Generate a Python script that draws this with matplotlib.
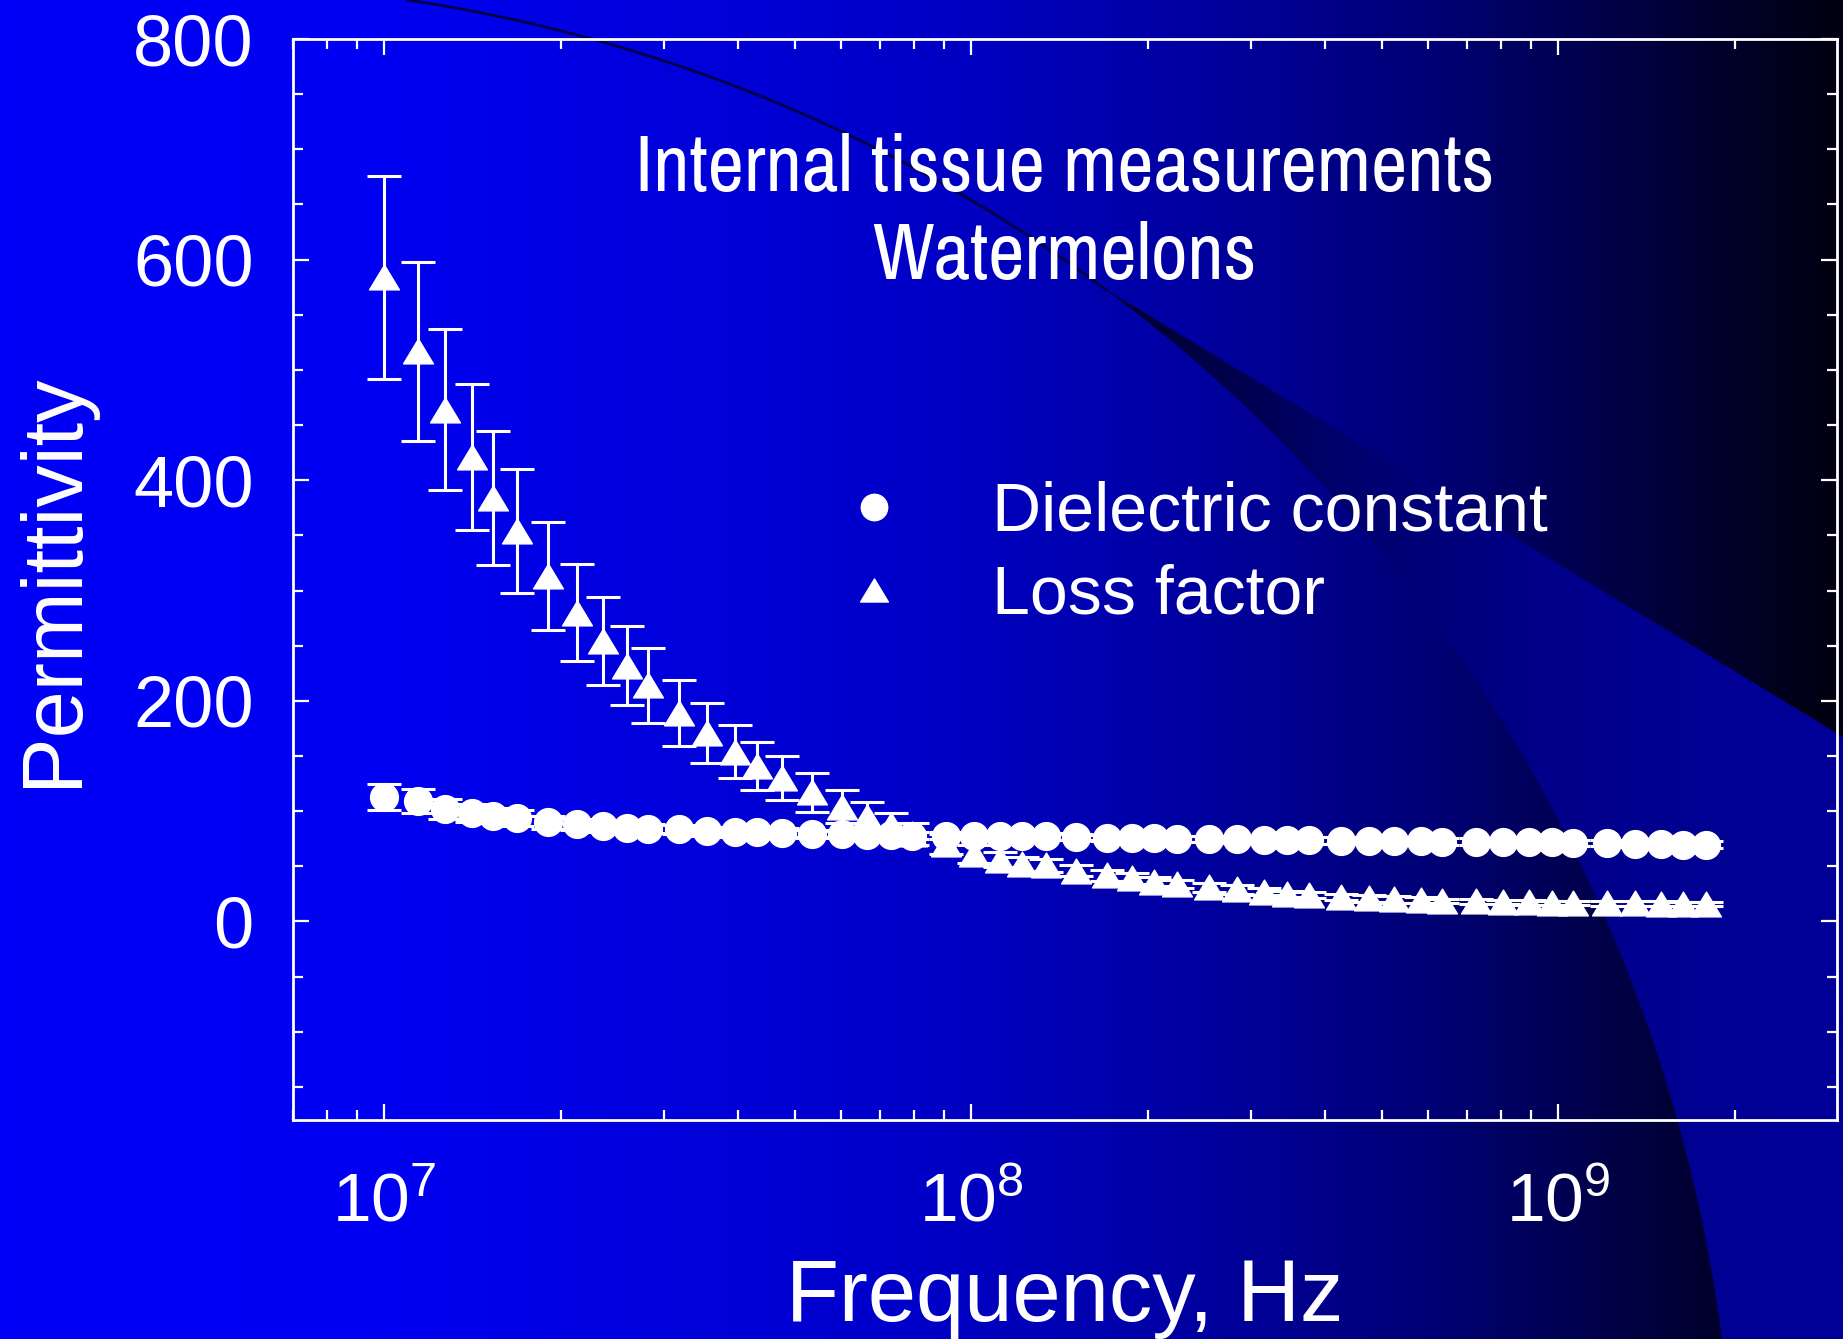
import numpy as np
import matplotlib
matplotlib.use('Agg')
import matplotlib.pyplot as plt
from matplotlib.colors import LinearSegmentedColormap
from matplotlib.patches import Polygon
from matplotlib.path import Path
from matplotlib.lines import Line2D
from matplotlib.ticker import MultipleLocator
from matplotlib.font_manager import FontProperties
from matplotlib import font_manager

# --- data (frequency in MHz) ---
freq_mhz = [10.0, 11.4, 12.7, 14.1, 15.3, 16.8, 19.0, 21.3, 23.6, 25.9,
            28.1, 31.8, 35.5, 39.5, 43.2, 47.5, 53.6, 60.1, 66.5, 73.1,
            79.3, 90.6, 101, 112, 122, 134, 151, 170, 188, 205,
            224, 254, 284, 315, 345, 376, 426, 475, 524, 583,
            633, 723, 804, 890, 974, 1061, 1208, 1353, 1493, 1633, 1788]

dielectric = [112.6, 109.0, 102.0, 98.4, 96.0, 93.6, 90.0, 88.0, 86.4, 84.9,
              84.0, 83.4, 81.9, 80.9, 80.9, 80.3, 79.3, 79.3, 78.4, 78.4,
              77.8, 77.8, 77.8, 77.5, 77.5, 77.2, 76.4, 75.8, 75.5, 75.2,
              74.9, 74.6, 74.3, 74.0, 74.0, 73.6, 73.3, 73.3, 73.0, 73.0,
              72.4, 72.4, 71.8, 71.8, 71.8, 71.2, 71.2, 70.3, 70.0, 69.7, 69.7]
dielectric_err = [12, 11, 9, 8, 7, 7, 6, 5, 5, 5,
                  4, 4, 4, 4, 4, 4, 4, 3, 3, 3,
                  3, 3, 3, 3, 3, 3, 3, 3, 3, 3,
                  3, 3, 3, 3, 3, 3, 3, 3, 3, 3,
                  3, 3, 3, 3, 3, 3, 3, 3, 3, 3, 3]

loss = [584, 517, 464, 421, 384, 354, 313, 280, 254, 232,
        214, 189, 171, 154, 141, 130, 117, 104, 95, 87,
        79, 70, 61, 56, 52, 51, 46, 42, 39, 36,
        34, 31, 29, 27, 25, 24, 22, 21, 20, 19.3,
        18.7, 18.1, 17.6, 17.3, 16.9, 16.7, 16.3, 16.3, 16.1, 16.0, 16.0]
loss_err = [92, 81, 73, 66, 61, 56, 49, 44, 40, 36,
            34, 30, 27, 24, 22, 20, 18, 15, 13, 11,
            10, 9, 8, 7, 6, 6, 5, 5, 5, 4,
            4, 4, 4, 3, 3, 3, 3, 3, 3, 3,
            2, 2, 2, 2, 2, 2, 2, 2, 2, 2, 2]

series_labels = ['Dielectric constant', 'Loss factor']
title_lines = ['Internal tissue measurements', 'Watermelons']
y_ticks = [0, 200, 400, 600, 800]

W, H = 1843, 1339

plt.rcParams['font.family'] = ['Liberation Sans', 'DejaVu Sans']
plt.rcParams['mathtext.fontset'] = 'custom'
plt.rcParams['mathtext.rm'] = 'Liberation Sans'
plt.rcParams['mathtext.it'] = 'Liberation Sans:italic'
plt.rcParams['mathtext.bf'] = 'Liberation Sans:bold'


def condensed_font():
    # the title is set in a narrow sans face; take the best one installed
    best, best_rank = None, 99
    for f in font_manager.fontManager.ttflist:
        fn = f.fname.lower()
        if f.style != 'normal' or 'bold' in fn or 'italic' in fn or 'oblique' in fn:
            continue
        if 'mono' in fn or 'serif' in f.name.lower():
            continue
        if any(k in fn for k in ('light', 'thin', 'medium', 'semi', 'black', 'extra')):
            continue
        name = f.name
        if name == 'Liberation Sans Narrow':
            rank = 0
        elif 'Narrow' in name:
            rank = 1
        elif 'Condensed' in name or 'condensed' in fn:
            rank = 2
        elif str(f.stretch) == 'condensed':
            rank = 3
        else:
            continue
        if rank < best_rank:
            best, best_rank = f, rank
    if best is None:
        return FontProperties(family='Liberation Sans')
    return FontProperties(fname=best.fname)


fig = plt.figure(figsize=(W / 100, H / 100), dpi=100)

# --- slide-like background ---
bg = fig.add_axes([0, 0, 1, 1], zorder=0)
bg.axis('off')
bg_cmap = LinearSegmentedColormap.from_list(
    'bgblue', [(0, '#0000F8'), (0.2, '#0000F2'), (0.5, '#0000C8'),
               (0.65, '#0000A0'), (0.78, '#000075'), (0.88, '#000045'),
               (1, '#000010')])
bg.imshow(np.linspace(0, 1, 512)[None, :], cmap=bg_cmap,
          extent=(0, W, H, 0), aspect='auto', interpolation='bilinear')

cx, cy, R = 178, 1540, 1557
ys = np.linspace(290, H, 200)
xs = cx + np.sqrt(R ** 2 - (ys - cy) ** 2)
band_pts = [(1107, 290), (W, 737), (W, H)] + list(zip(xs[::-1], ys[::-1]))
band = Polygon(band_pts, closed=True, facecolor='none', edgecolor='none',
               transform=bg.transData)
bg.add_patch(band)
band_cmap = LinearSegmentedColormap.from_list(
    'band', [(0, '#000028'), (0.3, '#00006A'), (0.6, '#00008A'), (1, '#00009A')])
im = bg.imshow(np.linspace(0, 1, 256)[None, :], cmap=band_cmap,
               extent=(1107, W, H, 290), aspect='auto', interpolation='bilinear')
im.set_clip_path(band)

ys2 = np.linspace(0, 290, 100)
xs2 = cx + np.sqrt(R ** 2 - (ys2 - cy) ** 2)
bg.plot(xs2, ys2, color='#00004A', lw=2)
bg.set_xlim(0, W)
bg.set_ylim(H, 0)

# --- main plot ---
ax = fig.add_axes([292.7 / W, (H - 1120) / H, 1544 / W, 1081 / H], zorder=1)
ax.set_facecolor('none')
ax.set_xscale('log')

freq = np.array(freq_mhz) * 1e6

tri = Path([(0, 0.83), (-1, -0.83), (1, -0.83), (0, 0.83)],
           [Path.MOVETO, Path.LINETO, Path.LINETO, Path.CLOSEPOLY])

ax.errorbar(freq, dielectric, yerr=dielectric_err, fmt='none', ecolor='white',
            elinewidth=2.2, capsize=12, capthick=2.2, zorder=2)
ax.errorbar(freq, loss, yerr=loss_err, fmt='none', ecolor='white',
            elinewidth=2.2, capsize=12, capthick=2.2, zorder=2)
ax.plot(freq, dielectric, ls='none', marker='o', ms=20, color='white',
        mec='white', zorder=3)
ax.plot(freq, loss, ls='none', marker=tri, ms=21.5, color='white',
        mec='white', zorder=3)

ax.set_xlim(6.98e6, 2.98e9)
ax.set_ylim(-180, 800)
ax.set_yticks(y_ticks)
ax.yaxis.set_minor_locator(MultipleLocator(50))

for sp in ax.spines.values():
    sp.set_color('white')
    sp.set_linewidth(2)

ax.tick_params(which='both', direction='in', top=True, right=True,
               colors='white', width=1.6)
ax.tick_params(which='major', length=11.5)
ax.tick_params(which='minor', length=7)
ax.tick_params(axis='y', pad=28, labelsize=52)
ax.tick_params(axis='x', pad=37, labelsize=50)

ax.set_xlabel('Frequency, Hz', fontsize=62.5, color='white', labelpad=16)
ax.set_ylabel('Permittivity', fontsize=61, color='white', labelpad=28.5)

# title: condensed face, sized so the first line is ~860 px wide
title_fp = condensed_font()
title_fp.set_size(57)
t1 = ax.text(0.5, 0.859, title_lines[0], transform=ax.transAxes,
             ha='center', va='baseline', fontproperties=title_fp, color='white')
renderer = fig.canvas.get_renderer()
w1 = t1.get_window_extent(renderer).width
size = min(60, 57 * 860 / w1)
title_fp.set_size(size)
t1.set_fontproperties(title_fp)
ax.text(0.5, 0.778, title_lines[1], transform=ax.transAxes,
        ha='center', va='baseline', fontproperties=title_fp, color='white')

handles = [Line2D([], [], ls='none', marker='o', ms=19, color='white'),
           Line2D([], [], ls='none', marker=tri, ms=20, color='white')]
ax.legend(handles, series_labels, loc='center left',
          bbox_to_anchor=(0.3545, 0.5234), frameon=False, fontsize=49,
          handlelength=1.0, handletextpad=1.24, labelspacing=0.28,
          borderpad=0, borderaxespad=0, labelcolor='white', numpoints=1)

fig.savefig('out.png', dpi=100)
